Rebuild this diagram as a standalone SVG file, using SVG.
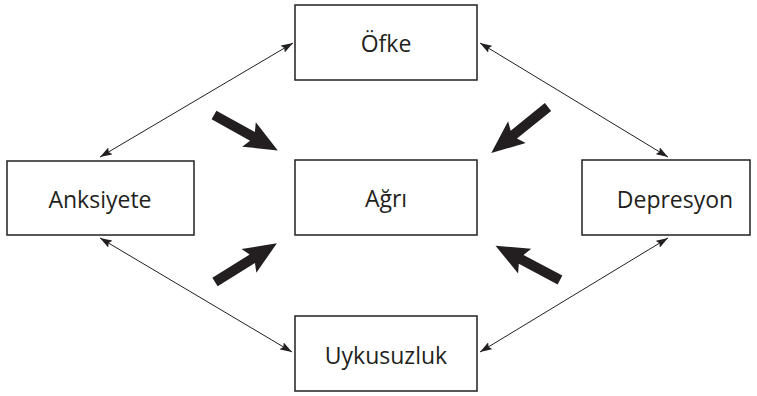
<svg xmlns="http://www.w3.org/2000/svg" width="757" height="396" viewBox="0 0 757 396">
<defs>
<style>
.box{fill:#fff;stroke:#231f20;stroke-width:1.5}
.lbl{font-family:"Open Sans","Noto Sans",sans-serif;font-size:23px;fill:#231f20;text-anchor:middle;dominant-baseline:central}
.thin{stroke:#231f20;stroke-width:1;fill:none;marker-start:url(#ah);marker-end:url(#ah)}
.big{fill:#231f20}
</style>
<marker id="ah" viewBox="0 0 12 8" refX="12" refY="4" markerWidth="12" markerHeight="8" markerUnits="userSpaceOnUse" orient="auto-start-reverse">
<path d="M0,0 L12,4 L0,8 L2,4 Z" fill="#231f20"/>
</marker>
<polygon id="bigArrow" points="0,-5 44,-5 40,-14 73,0 40,14 44,5 0,5"/>
</defs>
<g id="connectors">
<line class="thin" x1="100" y1="157" x2="293" y2="43"/>
<line class="thin" x1="480" y1="43" x2="668" y2="157"/>
<line class="thin" x1="100" y1="238" x2="292" y2="352"/>
<line class="thin" x1="668" y1="238" x2="480" y2="352"/>
<use href="#bigArrow" class="big" transform="translate(214,115) rotate(29)"/>
<use href="#bigArrow" class="big" transform="translate(548,107) rotate(141)"/>
<use href="#bigArrow" class="big" transform="translate(215,282) rotate(-32)"/>
<use href="#bigArrow" class="big" transform="translate(560,280) rotate(208)"/>
</g>
<g id="ofke"><rect class="box" x="295" y="5" width="182" height="75"/><text class="lbl" x="386" y="43">Öfke</text></g>
<g id="anksiyete"><rect class="box" x="7" y="161" width="187" height="74"/><text class="lbl" x="100" y="199">Anksiyete</text></g>
<g id="agri"><rect class="box" x="295" y="160" width="182" height="75"/><text class="lbl" x="386" y="198">Ağrı</text></g>
<g id="depresyon"><rect class="box" x="582" y="160" width="168" height="75"/><text class="lbl" x="675" y="199">Depresyon</text></g>
<g id="uykusuzluk"><rect class="box" x="295" y="316" width="182" height="75"/><text class="lbl" x="386" y="355">Uykusuzluk</text></g>
</svg>
